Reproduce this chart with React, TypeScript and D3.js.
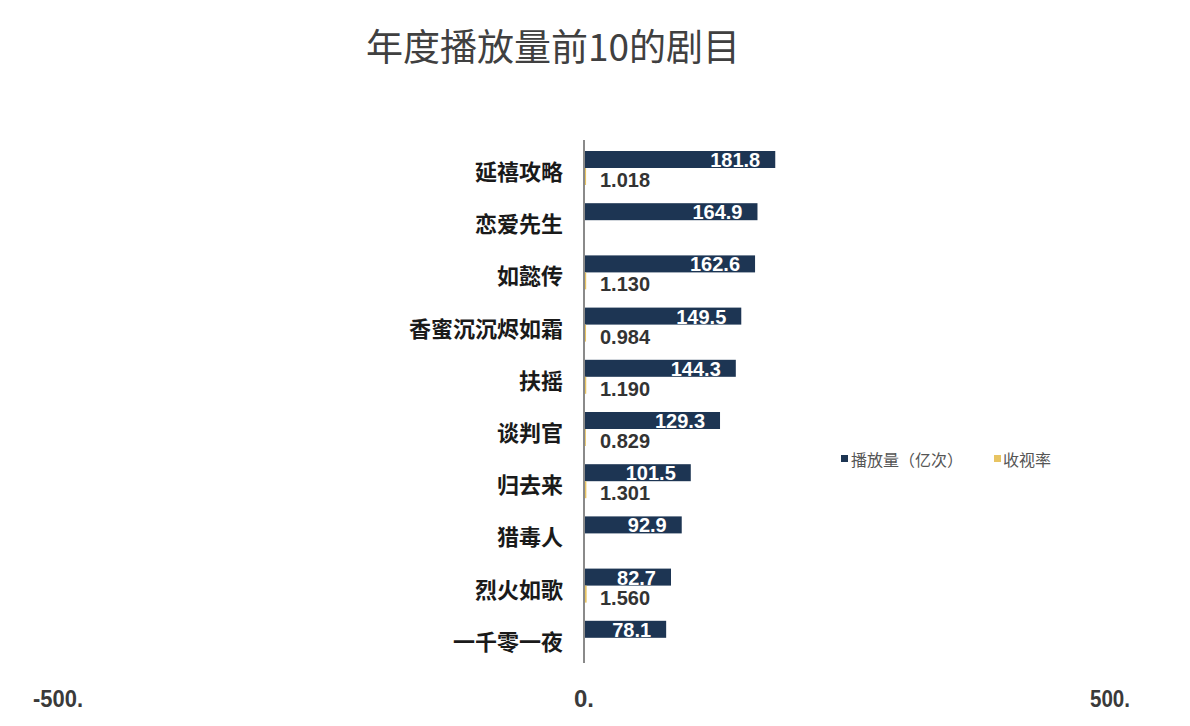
import React from "react";
import * as d3 from "d3";

const categories = ["延禧攻略", "恋爱先生", "如懿传", "香蜜沉沉烬如霜", "扶摇", "谈判官", "归去来", "猎毒人", "烈火如歌", "一千零一夜"];
const playCounts = [181.8, 164.9, 162.6, 149.5, 144.3, 129.3, 101.5, 92.9, 82.7, 78.1];
const ratings: (number | null)[] = [1.018, null, 1.13, 0.984, 1.19, 0.829, 1.301, null, 1.56, null];
const xTicks = [-500, 0, 500];
const seriesNames = ["播放量（亿次）", "收视率"];
const title = "年度播放量前10的剧目";

const W = 1190;
const H = 726;
const NAVY = "#1d3553";
const GOLD = "#e8c462";
const CJK = "'Noto Sans CJK SC', 'Noto Sans', sans-serif";
const LAT = "'Liberation Sans', Arial, sans-serif";

export default function App() {
  const x = d3.scaleLinear().domain([-500, 500]).range([58, 1110]);
  const y = d3.scaleBand<string>().domain(categories).range([151, 673]).paddingInner(0);
  const barH = 17;

  return (
    <div style={{ position: "absolute", left: 0, top: 0 }}>
      <svg width={W} height={H} style={{ display: "block", background: "#fff" }}>
        <text x={366} y={61} fontFamily={CJK} fontSize={37} fill="#404040">{title}</text>

        {/* axis line */}
        <line x1={x(0)} x2={x(0)} y1={140} y2={663} stroke="#8a8a8a" strokeWidth={2} />

        {categories.map((c, i) => {
          const y0 = y(c)!;
          const v = playCounts[i];
          const r = ratings[i];
          return (
            <g key={c}>
              <text x={563} y={y0 + 29} textAnchor="end" fontFamily={CJK} fontWeight={700} fontSize={22} fill="#1a1a1a">{c}</text>
              <rect x={x(0) + 1} y={y0} width={x(v) - x(0) - 1} height={barH} fill={NAVY} />
              <text x={x(v) - 15} y={y0 + 16} textAnchor="end" fontFamily={LAT} fontWeight={700} fontSize={20} fill="#ffffff">{v.toFixed(1)}</text>
              {r !== null && (
                <g>
                  <rect x={x(0) + 1} y={y0 + barH} width={Math.max(0, x(r) - x(0))} height={barH} fill={GOLD} />
                  <text x={600} y={y0 + 36} fontFamily={LAT} fontWeight={700} fontSize={20} fill="#333333">{r.toFixed(3)}</text>
                </g>
              )}
            </g>
          );
        })}

        {xTicks.map((t) => {
          const s = `${t}.`;
          return (
            <text key={t} x={x(t)} y={707} textAnchor="middle" fontFamily={LAT} fontWeight={700} fontSize={24}
              textLength={s.length * 10} lengthAdjust="spacingAndGlyphs" fill="#3a3a3a">{s}</text>
          );
        })}

        {/* legend */}
        <rect x={841} y={455} width={7} height={7} fill={NAVY} />
        <text x={851} y={466} fontFamily={CJK} fontSize={16} fill="#555">{seriesNames[0]}</text>
        <rect x={994} y={455} width={7} height={7} fill={GOLD} />
        <text x={1003} y={466} fontFamily={CJK} fontSize={16} fill="#555">{seriesNames[1]}</text>
      </svg>
    </div>
  );
}
